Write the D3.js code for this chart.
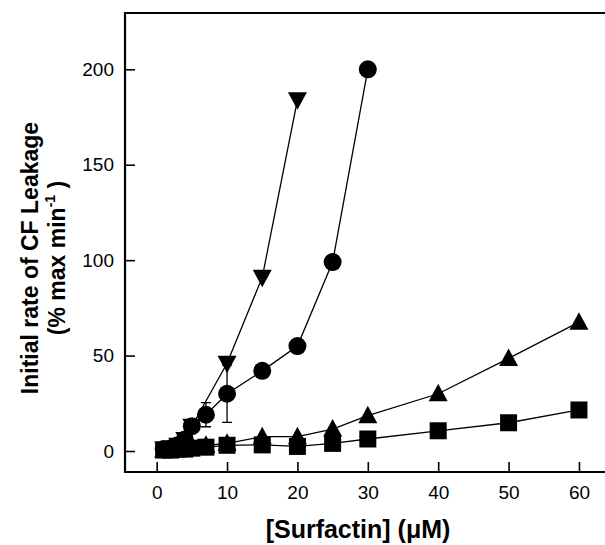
<!DOCTYPE html>
<html><head><meta charset="utf-8">
<script src="https://cdn.jsdelivr.net/npm/d3@7"></script>
<style>body{margin:0;background:#fff;} svg{display:block;font-family:"Liberation Sans",Arial,sans-serif;}</style>
</head><body>
<svg id="c" width="605" height="545"></svg>
<script>
// ---- data ----
const xTicks = [0, 10, 20, 30, 40, 50, 60];
const yTicks = [0, 50, 100, 150, 200];

const circleX = [1, 2, 3, 4, 5, 7, 10, 15, 20, 25, 30];
const circleY = [1, 1.5, 3, 6, 13, 19, 30, 42, 55, 99, 200];
const circleErr = [0, 0, 0, 0, 0, 6.3, 15, 0, 0, 0, 0];

const downTriX = [1, 2, 3, 4, 5, 10, 15, 20];
const downTriY = [1, 1.5, 3, 6, 13, 46, 91, 184];

const upTriX = [1, 2, 3, 4, 5, 7, 10, 15, 20, 25, 30, 40, 50, 60];
const upTriY = [0.5, 1, 1, 1.5, 2, 3, 4, 7.5, 7.5, 11.5, 18.5, 30, 48.5, 67.5];

const squareX = [1, 2, 3, 4, 5, 7, 10, 15, 20, 25, 30, 40, 50, 60];
const squareY = [0.5, 0.5, 1, 1, 1.5, 2, 3, 3.2, 2.4, 4, 6.3, 10.6, 14.8, 21.5];

// ---- chart ----
const svg = d3.select("#c");
const L = 125, R = 605, T = 13, B = 472;
const x = d3.scaleLinear().domain([-4.5, 63.7]).range([L, R]);
const y = d3.scaleLinear().domain([-11, 229.5]).range([B, T]);

// frame (top + left + bottom)
svg.append("path").attr("d", `M${R},${T}H${L}V${B}H${R}`)
  .attr("fill", "none").attr("stroke", "#000").attr("stroke-width", 2.2);

// axes
const xAxis = d3.axisBottom(x).tickValues(xTicks).tickSizeInner(-10).tickSizeOuter(0).tickPadding(14);
const gx = svg.append("g").attr("transform", `translate(0,${B})`).call(xAxis);
gx.select(".domain").remove();
gx.selectAll("line").attr("stroke", "#000").attr("stroke-width", 1.6);
gx.selectAll("text").attr("font-size", 19).attr("fill", "#000").attr("dy", "0.71em");

const yAxis = d3.axisLeft(y).tickValues(yTicks).tickSizeInner(-10).tickSizeOuter(0).tickPadding(11);
const gy = svg.append("g").attr("transform", `translate(${L},0)`).call(yAxis);
gy.select(".domain").remove();
gy.selectAll("line").attr("stroke", "#000").attr("stroke-width", 1.6);
gy.selectAll("text").attr("font-size", 19).attr("fill", "#000");

// titles
svg.append("text").attr("x", 358).attr("y", 538).attr("text-anchor", "middle")
  .attr("font-size", 25).attr("font-weight", "bold").text("[Surfactin] (\u03BCM)");

const yt = svg.append("g").attr("transform", "translate(0,258) rotate(-90)");
yt.append("text").attr("x", 0).attr("y", 38).attr("text-anchor", "middle")
  .attr("font-size", 23).attr("font-weight", "bold").text("Initial rate of CF Leakage");
const t2 = yt.append("text").attr("x", 0).attr("y", 65).attr("text-anchor", "middle")
  .attr("font-size", 23).attr("font-weight", "bold");
t2.append("tspan").text("(% max min");
t2.append("tspan").attr("dy", -10).attr("font-size", 14).text("-1");
t2.append("tspan").attr("dy", 10).text(" )");

// series
const line = d3.line().x(d => x(d[0])).y(d => y(d[1]));
const zip = (a, b) => a.map((v, i) => [v, b[i]]);
const series = [
  {pts: zip(squareX, squareY), shape: "square"},
  {pts: zip(upTriX, upTriY), shape: "up"},
  {pts: zip(circleX, circleY), shape: "circle"},
  {pts: zip(downTriX, downTriY), shape: "down"}
];
series.forEach(s => {
  svg.append("path").attr("d", line(s.pts)).attr("fill", "none")
    .attr("stroke", "#000").attr("stroke-width", 1.3);
});

// error bars
circleX.forEach((cx, i) => {
  const e = circleErr[i];
  if (!e) return;
  const px = x(cx), y1 = y(circleY[i] - e), y2 = y(circleY[i] + e);
  svg.append("path").attr("d", `M${px},${y1}V${y2}M${px-5},${y1}H${px+5}M${px-5},${y2}H${px+5}`)
    .attr("stroke", "#000").attr("stroke-width", 1.3).attr("fill", "none");
});

const shapes = {
  square: "M-8.5,-8.5H8.5V8.5H-8.5Z",
  up: "M0,-10L9.5,7.5H-9.5Z",
  down: "M0,10L9.5,-7.5H-9.5Z",
  circle: d3.symbol(d3.symbolCircle, Math.PI * 81)()
};
series.forEach(s => {
  svg.append("g").selectAll("path").data(s.pts).join("path")
    .attr("d", shapes[s.shape])
    .attr("transform", d => `translate(${x(d[0])},${y(d[1])})`)
    .attr("fill", "#000");
});
</script>
</body></html>
